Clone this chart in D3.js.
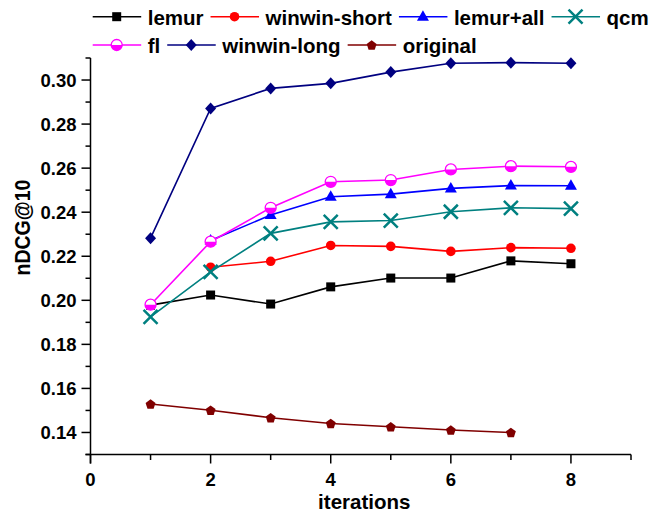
<!DOCTYPE html>
<html>
<head>
<meta charset="utf-8">
<script src="https://cdn.jsdelivr.net/npm/d3@7"></script>
<style>
    body { margin: 0; background: #fff; }
    text { font-family: "Liberation Sans", Arial, sans-serif; font-weight: bold; fill: #000; }
</style>
</head>
<body>
<svg id="chart" width="672" height="513"></svg>
<script>
var width = 672;
var height = 513;

// iterations on the x axis
var iterations = [1, 2, 3, 4, 5, 6, 7, 8];

// nDCG@10 values per run (null = not run at that iteration)
var lemur       = [0.1978, 0.2024, 0.1983, 0.2061, 0.2101, 0.2101, 0.2179, 0.2166];
var winwinShort = [null,   0.2150, 0.2177, 0.2249, 0.2245, 0.2222, 0.2239, 0.2236];
var lemurAll    = [null,   0.2272, 0.2387, 0.2470, 0.2482, 0.2508, 0.2521, 0.2520];
var qcm         = [0.1925, 0.2129, 0.2304, 0.2356, 0.2362, 0.2402, 0.2420, 0.2416];
var fl          = [0.1980, 0.2266, 0.2420, 0.2538, 0.2546, 0.2594, 0.2609, 0.2606];
var winwinLong  = [0.2282, 0.2871, 0.2962, 0.2985, 0.3036, 0.3076, 0.3079, 0.3076];
var original    = [0.1529, 0.1501, 0.1467, 0.1441, 0.1426, 0.1411, 0.1400, null];

var seriesNames  = ["lemur", "winwin-short", "lemur+all", "qcm", "fl", "winwin-long", "original"];
var seriesValues = [lemur, winwinShort, lemurAll, qcm, fl, winwinLong, original];
var seriesColors = ["#000000", "#ff0000", "#0000ff", "#008080", "#ff00ff", "#000080", "#800000"];
var seriesMarks  = ["square", "circle", "triangle", "cross", "halfcircle", "diamond", "pentagon"];

var xTicks = [0, 1, 2, 3, 4, 5, 6, 7, 8, 9];
var yTicks = [0.13, 0.14, 0.15, 0.16, 0.17, 0.18, 0.19, 0.20, 0.21, 0.22, 0.23, 0.24, 0.25, 0.26, 0.27, 0.28, 0.29, 0.30, 0.31];

var svg = d3.select("#chart");

var x = d3.scaleLinear().domain([0, 9]).range([90.5, 631]);
var y = d3.scaleLinear().domain([0.13, 0.31]).range([454.5, 58]);

/*====================================================================
       drawMarker()
       appends one point marker of the given shape at (cx, cy)
    ==================================================================*/
function drawMarker(g, shape, color, cx, cy) {
    var m = g.append("g").attr("transform", "translate(" + cx + "," + cy + ")");
    if (shape === "square") {
        m.append("rect").attr("x", -4.5).attr("y", -4.5).attr("width", 9).attr("height", 9).attr("fill", color);
    } else if (shape === "circle") {
        m.append("circle").attr("r", 4.8).attr("fill", color);
    } else if (shape === "triangle") {
        m.append("path").attr("d", "M0,-6.5L6,4L-6,4Z").attr("fill", color);
    } else if (shape === "diamond") {
        m.append("path").attr("d", "M0,-6L5.5,0L0,6L-5.5,0Z").attr("fill", color);
    } else if (shape === "pentagon") {
        var pts = d3.range(5).map(function (i) {
            var a = -Math.PI / 2 + i * 2 * Math.PI / 5;
            return [5.2 * Math.cos(a), 5.2 * Math.sin(a) + 0.5];
        });
        m.append("path").attr("d", "M" + pts.join("L") + "Z").attr("fill", color);
    } else if (shape === "cross") {
        m.append("path").attr("d", "M-7,-7L7,7M7,-7L-7,7")
            .attr("stroke", color).attr("stroke-width", 2.5).attr("fill", "none");
    } else if (shape === "halfcircle") {
        m.append("circle").attr("r", 5.5).attr("fill", "#fff").attr("stroke", color).attr("stroke-width", 1.3);
        m.append("path")
            .attr("d", d3.arc()({ innerRadius: 0, outerRadius: 5.5, startAngle: Math.PI / 2, endAngle: 3 * Math.PI / 2 }))
            .attr("fill", color);
    }
}

// ---- axes ----
var axes = svg.append("g").attr("stroke", "#000").attr("stroke-width", 1.5);

axes.append("line").attr("x1", x(0)).attr("x2", x(0)).attr("y1", y(0.31)).attr("y2", y(0.13) + 9);
axes.append("line").attr("x1", x(0) - 5).attr("x2", x(9)).attr("y1", y(0.13)).attr("y2", y(0.13));

yTicks.forEach(function (t, i) {
    var major = Math.round(t * 100) % 2 === 0;
    axes.append("line")
        .attr("x1", x(0) - (major ? 9 : 5)).attr("x2", x(0))
        .attr("y1", y(t)).attr("y2", y(t));
    if (major) {
        svg.append("text")
            .attr("x", x(0) - 14).attr("y", y(t) + 6.5)
            .attr("text-anchor", "end").attr("font-size", "18.5px")
            .text(d3.format(".2f")(t));
    }
});

xTicks.forEach(function (t) {
    var major = t % 2 === 0;
    axes.append("line")
        .attr("x1", x(t)).attr("x2", x(t))
        .attr("y1", y(0.13)).attr("y2", y(0.13) + (major ? 9 : 5.5));
    if (major) {
        svg.append("text")
            .attr("x", x(t)).attr("y", 485.5)
            .attr("text-anchor", "middle").attr("font-size", "18.5px")
            .text(t);
    }
});

svg.append("text")
    .attr("x", (x(0) + x(9)) / 2 + 3.5).attr("y", 508.5)
    .attr("text-anchor", "middle").attr("font-size", "20.5px")
    .text("iterations");

svg.append("text")
    .attr("transform", "translate(30," + 227.5 + ") rotate(-90) scale(1,1.15)")
    .attr("text-anchor", "middle").attr("font-size", "19.5px")
    .text("nDCG@10");

// ---- series ----
var line = d3.line()
    .defined(function (d) { return d[1] !== null; })
    .x(function (d) { return x(d[0]); })
    .y(function (d) { return y(d[1]); });

seriesValues.forEach(function (vals, s) {
    var pts = iterations.map(function (it, i) { return [it, vals[i]]; });
    var g = svg.append("g");
    g.append("path")
        .attr("d", line(pts))
        .attr("fill", "none")
        .attr("stroke", seriesColors[s])
        .attr("stroke-width", 1.6);
    pts.filter(function (d) { return d[1] !== null; }).forEach(function (d) {
        drawMarker(g, seriesMarks[s], seriesColors[s], x(d[0]), y(d[1]));
    });
});

// ---- legend ----
var legendRows = [[0, 1, 2, 3], [4, 5, 6]];
var rowY = [16.7, 45];
legendRows.forEach(function (row, r) {
    var cx = 92.7;
    row.forEach(function (s) {
        var g = svg.append("g");
        g.append("line")
            .attr("x1", cx).attr("x2", cx + 48.5)
            .attr("y1", rowY[r]).attr("y2", rowY[r])
            .attr("stroke", seriesColors[s]).attr("stroke-width", 1.6);
        drawMarker(g, seriesMarks[s], seriesColors[s], cx + 24, rowY[r]);
        var txt = g.append("text")
            .attr("x", cx + 55).attr("y", rowY[r] + 7.8)
            .attr("font-size", "20.5px")
            .text(seriesNames[s]);
        cx = cx + 55 + txt.node().getComputedTextLength() + 7;
    });
});
</script>
</body>
</html>
